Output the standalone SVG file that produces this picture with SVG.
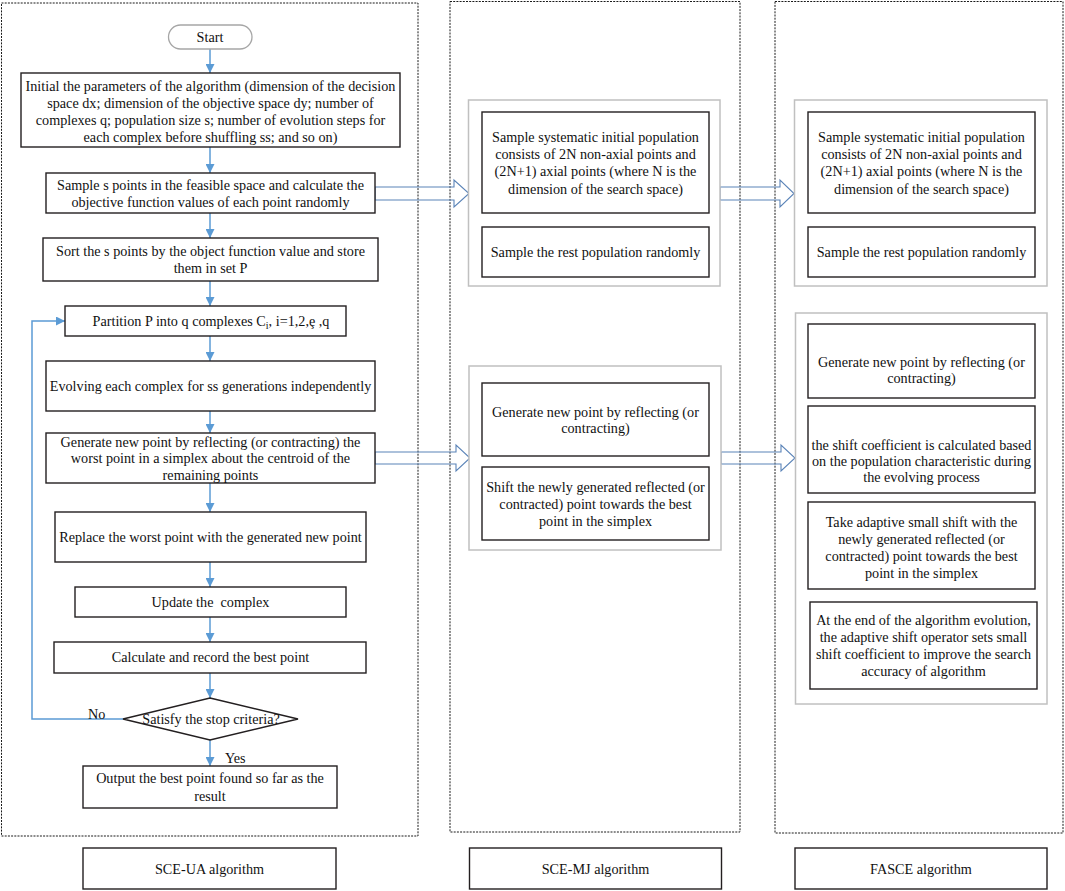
<svg xmlns="http://www.w3.org/2000/svg" width="1065" height="891" viewBox="0 0 1065 891">
<defs>
<style>
.frame{fill:none;stroke:#1a1a1a;stroke-width:1;stroke-dasharray:2,1.2}
.box{fill:#fff;stroke:#231f20;stroke-width:1.4}
.grp{fill:#fff;stroke:#c0c0c0;stroke-width:1.5}
.start{fill:#fff;stroke:#a6a6a6;stroke-width:1.3}
.t{font-family:"Liberation Serif","Times New Roman",serif;font-size:14.2px;fill:#111;text-anchor:middle}
.tl{font-family:"Liberation Serif","Times New Roman",serif;font-size:14.2px;fill:#111}
.conn{fill:none;stroke:#5b9bd5;stroke-width:1.5}
.hollow{fill:none;stroke:#5b84b8;stroke-width:1.1}
</style>
<marker id="ah" viewBox="0 0 10 10" refX="10" refY="5" markerWidth="9" markerHeight="9" markerUnits="userSpaceOnUse" orient="auto">
<path d="M0,0 L10,5 L0,10 z" fill="#5b9bd5"/>
</marker>
</defs>

<g id="frames">
<rect class="frame" x="1.5" y="3" width="416.5" height="833"/>
<rect class="frame" x="450" y="1.5" width="290" height="830.5"/>
<rect class="frame" x="775" y="1.5" width="288" height="831.5"/>
</g>

<g id="connectors">
<line class="conn" x1="210" y1="49" x2="210" y2="73" marker-end="url(#ah)"/>
<line class="conn" x1="210" y1="147" x2="210" y2="173" marker-end="url(#ah)"/>
<line class="conn" x1="210" y1="213" x2="210" y2="238" marker-end="url(#ah)"/>
<line class="conn" x1="210" y1="281" x2="210" y2="306" marker-end="url(#ah)"/>
<line class="conn" x1="210" y1="336" x2="210" y2="361" marker-end="url(#ah)"/>
<line class="conn" x1="210" y1="411" x2="210" y2="433" marker-end="url(#ah)"/>
<line class="conn" x1="210" y1="483" x2="210" y2="512" marker-end="url(#ah)"/>
<line class="conn" x1="210" y1="562" x2="210" y2="587" marker-end="url(#ah)"/>
<line class="conn" x1="210" y1="617" x2="210" y2="642" marker-end="url(#ah)"/>
<line class="conn" x1="210" y1="673" x2="210" y2="698" marker-end="url(#ah)"/>
<line class="conn" x1="210" y1="740" x2="210" y2="766" marker-end="url(#ah)"/>
<polyline class="conn" points="123,719 32,719 32,321 65,321" marker-end="url(#ah)"/>
<polygon class="hollow" points="375,187 454,187 454,180 469,193.5 454,207 454,200 375,200"/>
<polygon class="hollow" points="720,187 780,187 780,180 794,193.5 780,207 780,200 720,200"/>
<polygon class="hollow" points="375,452 456,452 456,445 470,458 456,471 456,464 375,464"/>
<polygon class="hollow" points="721,452 781,452 781,445 795,458 781,471 781,464 721,464"/>
</g>

<g id="start">
<rect class="start" x="168.5" y="25" width="83.5" height="24" rx="12" ry="12"/>
<text class="t" x="210" y="42">Start</text>
</g>

<g id="init">
<rect class="box" x="21" y="73" width="379" height="74"/>
<text class="t" x="210.5" y="91">Initial the parameters of the algorithm (dimension of the decision</text>
<text class="t" x="210.5" y="108">space dx; dimension of the objective space dy; number of</text>
<text class="t" x="210.5" y="125">complexes q; population size s; number of evolution steps for</text>
<text class="t" x="210.5" y="142">each complex before shuffling ss; and so on)</text>
</g>

<g id="sample">
<rect class="box" x="46" y="173" width="329" height="40"/>
<text class="t" x="210.5" y="189.5">Sample s points in the feasible space and calculate the</text>
<text class="t" x="210.5" y="207">objective function values of each point randomly</text>
</g>

<g id="sort">
<rect class="box" x="43" y="238" width="335" height="43"/>
<text class="t" x="210.5" y="256">Sort the s points by the object function value and store</text>
<text class="t" x="210.5" y="273">them in set P</text>
</g>

<g id="partition">
<rect class="box" x="65" y="306" width="281" height="30"/>
<text class="t" x="211" y="326">Partition P into q complexes C<tspan font-size="10" dy="3">i</tspan><tspan dy="-3">, i=1,2,ȩ ,q</tspan></text>
</g>

<g id="evolve">
<rect class="box" x="46" y="361" width="329" height="50"/>
<text class="t" x="210.5" y="391">Evolving each complex for ss generations independently</text>
</g>

<g id="generate">
<rect class="box" x="46" y="433" width="329" height="50"/>
<text class="t" x="210.5" y="446.5">Generate new point by reflecting (or contracting) the</text>
<text class="t" x="210.5" y="463">worst point in a simplex about the centroid of the</text>
<text class="t" x="210.5" y="480">remaining points</text>
</g>

<g id="replace">
<rect class="box" x="55" y="512" width="311" height="50"/>
<text class="t" x="210.5" y="542">Replace the worst point with the generated new point</text>
</g>

<g id="update">
<rect class="box" x="75" y="587" width="271" height="30"/>
<text class="t" x="210.5" y="607" style="white-space:pre">Update the  complex</text>
</g>

<g id="calc">
<rect class="box" x="54" y="642" width="312" height="31"/>
<text class="t" x="210.5" y="662">Calculate and record the best point</text>
</g>

<g id="decision">
<polygon class="box" points="210,698 298,719 210,740 123,719"/>
<text class="t" x="211" y="724">Satisfy the stop criteria?</text>
<text class="tl" x="88" y="719">No</text>
<text class="tl" x="225" y="763">Yes</text>
</g>

<g id="output">
<rect class="box" x="83" y="766" width="254" height="42"/>
<text class="t" x="210" y="783">Output the best point found so far as the</text>
<text class="t" x="210" y="801">result</text>
</g>

<g id="mj-init">
<rect class="grp" x="468.5" y="100" width="251.5" height="186"/>
<rect class="box" x="482" y="112" width="227" height="101"/>
<text class="t" x="595.5" y="142">Sample systematic initial population</text>
<text class="t" x="595.5" y="159">consists of 2N non-axial points and</text>
<text class="t" x="595.5" y="176">(2N+1) axial points (where N is the</text>
<text class="t" x="595.5" y="193.5">dimension of the search space)</text>
<rect class="box" x="482" y="227" width="227" height="50"/>
<text class="t" x="595.5" y="257">Sample the rest population randomly</text>
</g>

<g id="mj-evolve">
<rect class="grp" x="469" y="366" width="252" height="184"/>
<rect class="box" x="482" y="383" width="227" height="73"/>
<text class="t" x="595.5" y="417">Generate new point by reflecting (or</text>
<text class="t" x="595.5" y="433">contracting)</text>
<rect class="box" x="482" y="467" width="227" height="73"/>
<text class="t" x="595.5" y="491.5">Shift the newly generated reflected (or</text>
<text class="t" x="595.5" y="509">contracted) point towards the best</text>
<text class="t" x="595.5" y="525.5">point in the simplex</text>
</g>

<g id="fasce-init">
<rect class="grp" x="794.5" y="100" width="252.5" height="186"/>
<rect class="box" x="808" y="112" width="227" height="101"/>
<text class="t" x="921.5" y="142">Sample systematic initial population</text>
<text class="t" x="921.5" y="159">consists of 2N non-axial points and</text>
<text class="t" x="921.5" y="176">(2N+1) axial points (where N is the</text>
<text class="t" x="921.5" y="193.5">dimension of the search space)</text>
<rect class="box" x="808" y="227" width="227" height="50"/>
<text class="t" x="921.5" y="257">Sample the rest population randomly</text>
</g>

<g id="fasce-evolve">
<rect class="grp" x="795.5" y="313" width="251.5" height="391"/>
<rect class="box" x="808" y="324" width="227" height="74"/>
<text class="t" x="921.5" y="366.5">Generate new point by reflecting (or</text>
<text class="t" x="921.5" y="382.5">contracting)</text>
<rect class="box" x="808" y="406" width="227" height="87"/>
<text class="t" x="921.5" y="450">the shift coefficient is calculated based</text>
<text class="t" x="921.5" y="466">on the population characteristic during</text>
<text class="t" x="921.5" y="482">the evolving process</text>
<rect class="box" x="808" y="502" width="227" height="87"/>
<text class="t" x="921.5" y="527">Take adaptive small shift with the</text>
<text class="t" x="921.5" y="544">newly generated reflected (or</text>
<text class="t" x="921.5" y="561">contracted) point towards the best</text>
<text class="t" x="921.5" y="578">point in the simplex</text>
<rect class="box" x="810" y="602" width="227" height="87"/>
<text class="t" x="923.5" y="625">At the end of the algorithm evolution,</text>
<text class="t" x="923.5" y="642">the adaptive shift operator sets small</text>
<text class="t" x="923.5" y="659">shift coefficient to improve the search</text>
<text class="t" x="923.5" y="676">accuracy of algorithm</text>
</g>

<g id="label-ua">
<rect class="box" x="83" y="848" width="253" height="41"/>
<text class="t" x="209.5" y="874">SCE-UA algorithm</text>
</g>
<g id="label-mj">
<rect class="box" x="469.5" y="848" width="252" height="41"/>
<text class="t" x="595.5" y="874">SCE-MJ algorithm</text>
</g>
<g id="label-fasce">
<rect class="box" x="795" y="848" width="252" height="41"/>
<text class="t" x="921" y="874">FASCE algorithm</text>
</g>
</svg>
